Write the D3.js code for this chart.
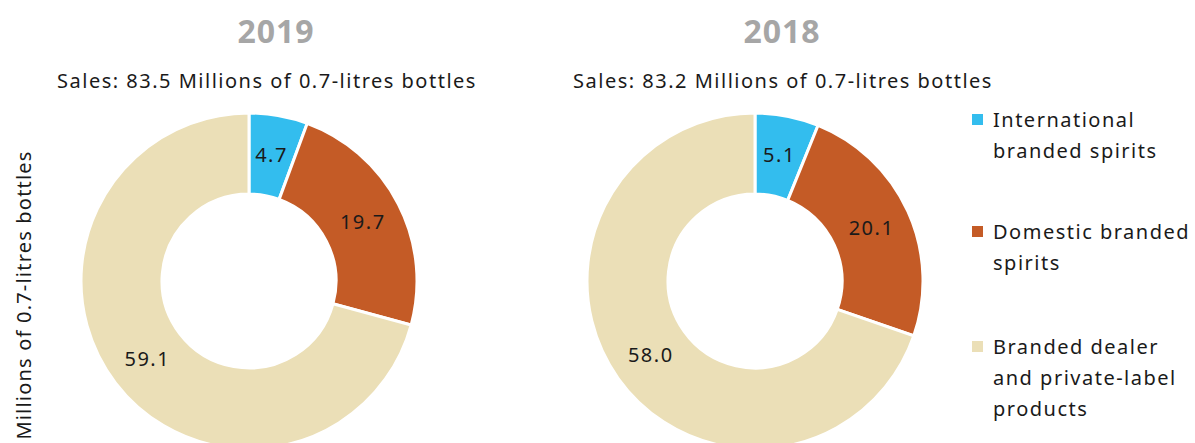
<!DOCTYPE html>
<html>
<head>
<meta charset="utf-8">
<script src="https://cdn.jsdelivr.net/npm/d3@7"></script>
<style>
  body { margin: 0; background: #fff; }
  svg { display: block; font-family: 'Noto Sans', 'Open Sans', sans-serif; }
</style>
</head>
<body>
<div id="chart"></div>
<script>
// data
var categories = ['International branded spirits', 'Domestic branded spirits', 'Branded dealer and private-label products'];
var legendLines = [['International', 'branded spirits'], ['Domestic branded', 'spirits'], ['Branded dealer', 'and private-label', 'products']];
var years = ['2019', '2018'];
var totals = ['83.5', '83.2'];
var values2019 = [4.7, 19.7, 59.1];
var values2018 = [5.1, 20.1, 58.0];
var colors = ['#33bdee', '#c45b26', '#ebdfb7'];

var width = 1195, height = 443;

var svg = d3.select('#chart').append('svg')
  .attr('width', width)
  .attr('height', height);

var color = d3.scaleOrdinal().domain(categories).range(colors);

var pie = d3.pie().sort(null).value(function(d) { return d.value; });
var arc = d3.arc().innerRadius(87).outerRadius(168);
var labelArc = d3.arc().innerRadius(128).outerRadius(128);

var charts = [
  { year: years[0], total: totals[0], values: values2019, cx: 249, titleX: 276, subX: 267 },
  { year: years[1], total: totals[1], values: values2018, cx: 755, titleX: 782, subX: 783 }
];
var cy = 281;

charts.forEach(function(c) {
  var g = svg.append('g');

  g.append('text')
    .attr('x', c.titleX)
    .attr('y', 43)
    .attr('text-anchor', 'middle')
    .style('font-size', '32px')
    .style('font-weight', 'bold')
    .style('letter-spacing', '1px')
    .style('fill', '#a6a6a6')
    .text(c.year);

  g.append('text')
    .attr('x', c.subX)
    .attr('y', 88)
    .attr('text-anchor', 'middle')
    .style('font-size', '20px')
    .style('letter-spacing', '1.5px')
    .style('fill', '#1a1a1a')
    .text('Sales: ' + c.total + ' Millions of 0.7-litres bottles');

  var data = categories.map(function(k, i) { return { key: k, value: c.values[i] }; });

  var donut = g.append('g')
    .attr('transform', 'translate(' + c.cx + ',' + cy + ')');

  donut.selectAll('path')
    .data(pie(data))
    .enter().append('path')
    .attr('d', arc)
    .style('fill', function(d) { return color(d.data.key); })
    .style('stroke', '#fff')
    .style('stroke-width', 3);

  donut.selectAll('.lbl')
    .data(pie(data))
    .enter().append('text')
    .attr('class', 'lbl')
    .attr('transform', function(d) { return 'translate(' + labelArc.centroid(d) + ')'; })
    .attr('text-anchor', 'middle')
    .attr('dy', '0.35em')
    .style('font-size', '20px')
    .style('letter-spacing', '1.5px')
    .style('fill', '#1a1a1a')
    .text(function(d) { return d.data.value.toFixed(1); });
});

// y label
svg.append('text')
  .attr('transform', 'translate(31,295) rotate(-90)')
  .attr('text-anchor', 'middle')
  .style('font-size', '20px')
  .style('letter-spacing', '1.2px')
  .style('fill', '#1a1a1a')
  .text('Millions of 0.7-litres bottles');

// legend
var legendY = [120, 232, 347];
var legend = svg.selectAll('.legend')
  .data(categories)
  .enter().append('g')
  .attr('class', 'legend')
  .attr('transform', function(d, i) { return 'translate(972,' + legendY[i] + ')'; });

legend.append('rect')
  .attr('x', 0)
  .attr('y', -6)
  .attr('width', 11)
  .attr('height', 11)
  .style('fill', function(d) { return color(d); });

legend.append('text')
  .attr('x', 21)
  .attr('y', 0)
  .style('font-size', '20px')
  .style('fill', '#1a1a1a')
  .selectAll('tspan')
  .data(function(d, i) { return legendLines[i]; })
  .enter().append('tspan')
  .attr('x', 21)
  .attr('dy', function(d, j) { return j === 0 ? '0.35em' : '31px'; })
  .style('letter-spacing', '1.5px')
  .text(function(d) { return d; });
</script>
</body>
</html>
